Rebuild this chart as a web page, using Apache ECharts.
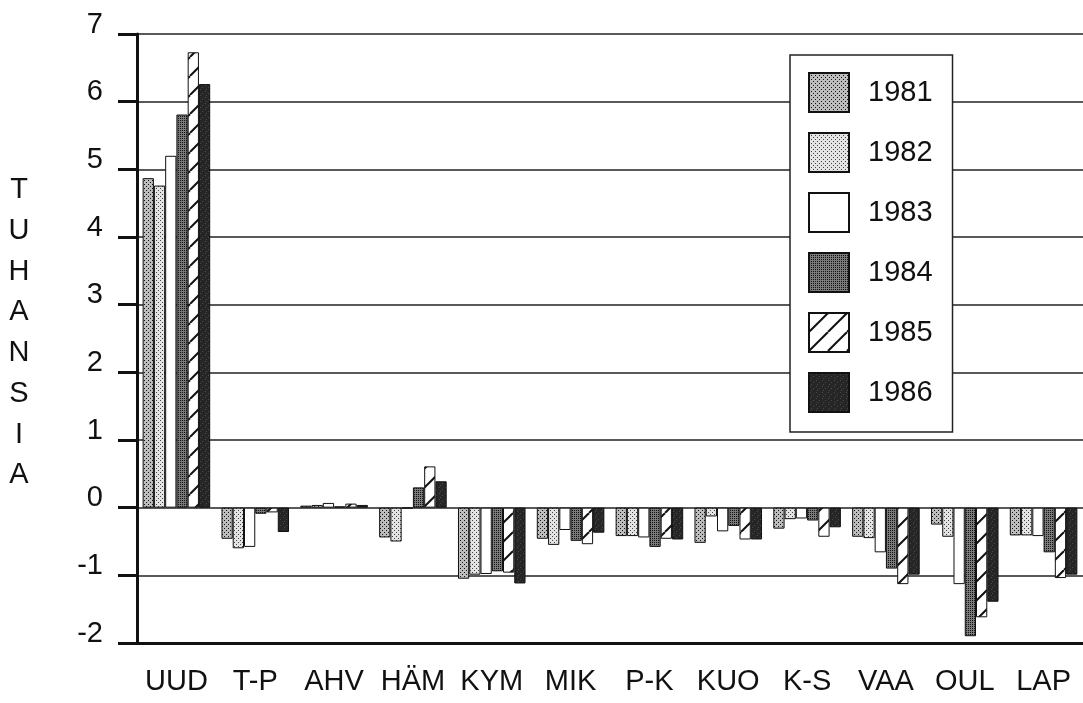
<!DOCTYPE html>
<html>
<head>
<meta charset="utf-8">
<script src="https://cdn.jsdelivr.net/npm/echarts@6/dist/echarts.min.js"></script>
<style>
    html,body{margin:0;padding:0;background:#fff;}
    #main{width:1083px;height:703px;}
</style>
</head>
<body>
<div id="main"></div>
<script>
const categories = ['UUD','T-P','AHV','HÄM','KYM','MIK','P-K','KUO','K-S','VAA','OUL','LAP'];
const years = ['1981','1982','1983','1984','1985','1986'];
const yTicks = [-2,-1,0,1,2,3,4,5,6,7];
const v1981 = [4.87,-0.46,0.03,-0.44,-1.05,-0.46,-0.42,-0.52,-0.31,-0.43,-0.25,-0.41];
const v1982 = [4.76,-0.60,0.04,-0.50,-0.99,-0.55,-0.42,-0.13,-0.17,-0.45,-0.43,-0.41];
const v1983 = [5.20,-0.58,0.07,-0.01,-0.98,-0.33,-0.44,-0.35,-0.16,-0.66,-1.13,-0.42];
const v1984 = [5.81,-0.09,0.02,0.30,-0.94,-0.49,-0.58,-0.27,-0.19,-0.90,-1.90,-0.66];
const v1985 = [6.73,-0.07,0.06,0.61,-0.96,-0.54,-0.46,-0.47,-0.43,-1.13,-1.62,-1.04];
const v1986 = [6.26,-0.36,0.04,0.39,-1.12,-0.37,-0.47,-0.47,-0.29,-0.99,-1.39,-0.99];
const values = [v1981,v1982,v1983,v1984,v1985,v1986];

const font = '"Liberation Sans", Arial, sans-serif';

// fill patterns for the old print look
function dots(bg, fg, pts, size){
    let c = document.createElement('canvas');
    c.width = size; c.height = size;
    let ctx = c.getContext('2d');
    ctx.fillStyle = bg;
    ctx.fillRect(0,0,size,size);
    ctx.fillStyle = fg;
    pts.forEach(p => ctx.fillRect(p[0],p[1],1,1));
    return {image:c, repeat:'repeat'};
}
function hatch(size){
    let c = document.createElement('canvas');
    c.width = size; c.height = size;
    let ctx = c.getContext('2d');
    ctx.fillStyle = '#fff';
    ctx.fillRect(0,0,size,size);
    ctx.strokeStyle = '#111';
    ctx.lineWidth = 2;
    [-size,0,size].forEach(o=>{
        ctx.beginPath();
        ctx.moveTo(o,size);
        ctx.lineTo(o+size,0);
        ctx.stroke();
    });
    return {image:c, repeat:'repeat'};
}

const fills = [
    dots('#bdbdbd','#111',[[0,0],[2,2]],4),
    dots('#e4e4e4','#444',[[0,0],[2,2]],4),
    '#fff',
    dots('#7a7a7a','#111',[[0,0],[2,2],[0,2],[2,0]],4),
    hatch(19),
    dots('#262626','#4a4a4a',[[1,1],[4,3],[2,5]],6)
];

let chart = echarts.init(document.getElementById('main'));

let series = years.map((y,i)=>({
    name:y,
    type:'bar',
    data:values[i],
    barGap:'0%',
    barCategoryGap:'14.3%',
    itemStyle:{
        color:fills[i],
        borderColor:'#111',
        borderWidth:1
    }
}));

let option = {
    backgroundColor:'#fff',
    animation:false,
    grid:{
        left:137,
        right:-8,
        top:34,
        bottom:60
    },
    legend:{
        orient:'vertical',
        left:790,
        top:55,
        data:years,
        icon:'rect',
        itemWidth:40,
        itemHeight:39,
        itemGap:19,
        padding:[17,20,19,18],
        backgroundColor:'#fff',
        borderColor:'#222',
        borderWidth:1.5,
        textStyle:{
            fontFamily:font,
            fontSize:29,
            color:'#111',
            padding:[0,0,0,14]
        }
    },
    graphic:[{
        type:'text',
        x:19,
        y:170,
        style:{
            text:'T\nU\nH\nA\nN\nS\nI\nA',
            fontFamily:font,
            fontSize:29,
            lineHeight:40.7,
            textAlign:'center',
            fill:'#111'
        }
    }],
    xAxis:{
        type:'category',
        data:categories,
        axisLine:{onZero:false,lineStyle:{color:'#111',width:3}},
        axisTick:{show:false},
        axisLabel:{
            fontFamily:font,
            fontSize:29,
            color:'#111',
            margin:24,
            interval:0
        }
    },
    yAxis:{
        type:'value',
        min:yTicks[0],
        max:yTicks[yTicks.length-1],
        interval:1,
        axisLine:{show:true,lineStyle:{color:'#111',width:3}},
        axisTick:{show:true,length:19,lineStyle:{color:'#111',width:3}},
        splitLine:{show:true,lineStyle:{color:'#222',width:1.5}},
        axisLabel:{
            fontFamily:font,
            fontSize:29,
            color:'#111',
            margin:34,
            verticalAlign:'bottom',
            lineHeight:19
        }
    },
    series:series
};
chart.setOption(option);
</script>
</body>
</html>
